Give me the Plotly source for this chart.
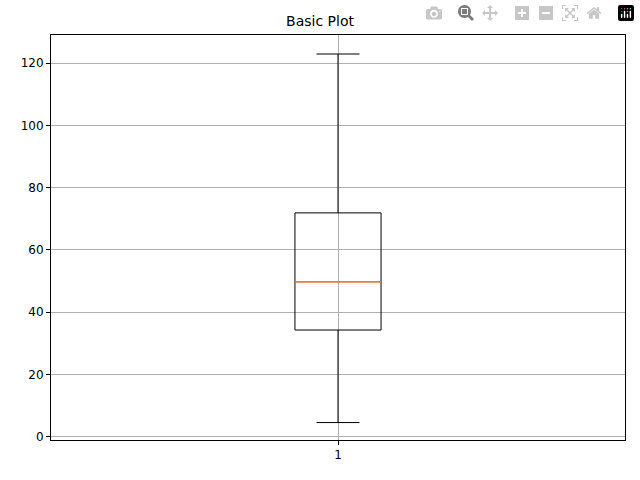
import plotly.graph_objects as go

categories = [1]
lower_whisker = [4.6]
q1 = [34.3]
median = [49.8]
q3 = [71.9]
upper_whisker = [122.9]

box_width = 0.15

fig = go.Figure()
fig.add_trace(go.Box(
    x=categories, q1=q1, median=median, q3=q3,
    lowerfence=lower_whisker, upperfence=upper_whisker,
    width=box_width, whiskerwidth=0.5,
    fillcolor="rgba(0,0,0,0)", line=dict(color="black", width=1),
    boxpoints=False, hoverinfo="skip", showlegend=False))
for c, m in zip(categories, median):
    fig.add_trace(go.Scatter(
        x=[c - box_width / 2, c + box_width / 2], y=[m, m], mode="lines",
        line=dict(color="#ff7f0e", width=1.3), showlegend=False, hoverinfo="skip"))

axis_common = dict(showline=True, mirror=True, linecolor="black", linewidth=1,
                   ticks="outside", ticklen=4, tickcolor="black",
                   showgrid=True, gridcolor="#b0b0b0", gridwidth=0.8,
                   zeroline=False, tickfont=dict(family="DejaVu Sans", size=12, color="black"))
fig.update_layout(
    width=640, height=480, plot_bgcolor="white", paper_bgcolor="white",
    margin=dict(l=51, r=15, t=35, b=40),
    title=dict(text="Basic Plot", x=0.5, xanchor="center", y=0.956, yanchor="middle",
               font=dict(family="DejaVu Sans", size=14, color="black")),
    xaxis=dict(range=[0.5, 1.5], tickvals=categories, ticktext=[str(c) for c in categories], **axis_common),
    yaxis=dict(range=[-1.0, 129.0], tickvals=[0, 20, 40, 60, 80, 100, 120], **axis_common),
)
fig.write_html("out.html", post_script="document.body.style.margin='0';document.body.style.overflow='hidden';")
